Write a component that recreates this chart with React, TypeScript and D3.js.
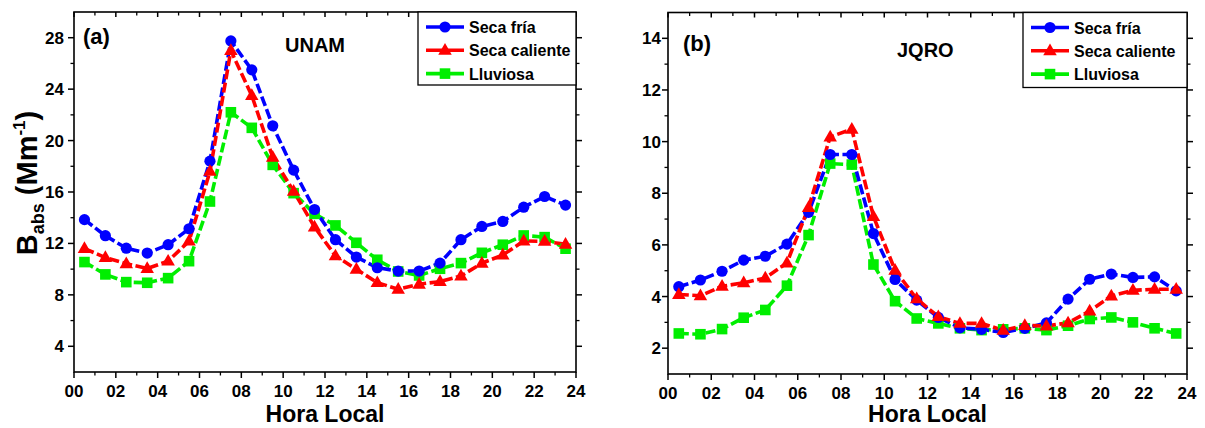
import React from "react";
import * as d3 from "d3";

const hours = [0.5,1.5,2.5,3.5,4.5,5.5,6.5,7.5,8.5,9.5,10.5,11.5,12.5,13.5,14.5,15.5,16.5,17.5,18.5,19.5,20.5,21.5,22.5,23.5];

const unamSecaFria = [13.85,12.6,11.63,11.25,11.9,13.14,18.4,27.75,25.5,21.15,17.7,14.64,12.29,10.94,10.11,9.85,9.85,10.47,12.29,13.32,13.71,14.82,15.65,14.98];
const unamSecaCaliente = [11.6,10.9,10.42,10.05,10.62,12.18,17.6,27.0,23.5,18.7,16.05,13.28,11.03,9.99,8.95,8.44,8.83,9.03,9.47,10.46,11.1,12.19,12.16,11.94];
const unamLluviosa = [10.55,9.59,8.99,8.94,9.3,10.62,15.26,22.2,20.99,18.11,15.91,14.3,13.4,12.05,10.73,9.82,9.51,10.03,10.47,11.27,11.9,12.62,12.49,11.59];

const jqroSecaFria = [4.38,4.64,4.98,5.41,5.56,6.03,7.26,9.5,9.5,6.44,4.66,3.86,3.19,2.79,2.73,2.61,2.77,2.98,3.9,4.67,4.87,4.74,4.76,4.22];
const jqroSecaCaliente = [4.08,4.03,4.4,4.53,4.72,5.3,7.45,10.18,10.48,7.1,5.02,3.91,3.22,2.96,2.96,2.69,2.88,2.86,2.98,3.44,4.02,4.24,4.28,4.28];
const jqroLluviosa = [2.57,2.54,2.74,3.18,3.48,4.42,6.38,9.15,9.11,5.24,3.82,3.15,2.96,2.77,2.7,2.73,2.77,2.7,2.87,3.13,3.19,3.0,2.77,2.57];

const seriesNames = ["Seca fría", "Seca caliente", "Lluviosa"];
const seriesColors = ["#0000ff", "#ff0000", "#00ee00"];
const seriesShapes = ["circle", "triangle", "square"];

const xTickValues = [0,2,4,6,8,10,12,14,16,18,20,22,24];
const xMinorValues = d3.range(1, 24, 2);
const unamYTicks = [4,8,12,16,20,24,28];
const unamYMinor = [6,10,14,18,22,26];
const jqroYTicks = [2,4,6,8,10,12,14];
const jqroYMinor = [3,5,7,9,11,13];

const FONT = "Arial, 'Liberation Sans', Helvetica, sans-serif";

function Marker({ shape, x, y, color }: { shape: string; x: number; y: number; color: string }) {
  if (shape === "circle") return <circle cx={x} cy={y} r={5.6} fill={color} />;
  if (shape === "square") return <rect x={x - 5.3} y={y - 5.3} width={10.6} height={10.6} fill={color} />;
  const s = 13.5;
  const h = s * 0.866;
  return (
    <polygon
      points={`${x},${y - h * 0.62} ${x - s / 2},${y + h * 0.38} ${x + s / 2},${y + h * 0.38}`}
      fill={color}
    />
  );
}

type PanelProps = {
  x0: number; x1: number; y0: number; y1: number;
  yDomain: [number, number];
  yTicks: number[]; yMinor: number[];
  data: number[][];
  letter: string; letterPos: [number, number];
  site: string; sitePos: [number, number];
  legendBox: [number, number, number, number];
  yLabelGap: number;
};

function Panel(p: PanelProps) {
  const x = d3.scaleLinear().domain([0, 24]).range([p.x0, p.x1]);
  const y = d3.scaleLinear().domain(p.yDomain).range([p.y1, p.y0]);
  const line = d3.line<number>().x((_, i) => x(hours[i])).y((d) => y(d));
  const [lx, ly, lw, lh] = p.legendBox;
  const order = [0, 1, 2];
  const drawOrder = [2, 0, 1];
  return (
    <g>
      {drawOrder.map((si) => (
        <path key={"l" + si} d={line(p.data[si]) || ""} fill="none" stroke={seriesColors[si]}
          strokeWidth={3.6} strokeDasharray="10 3.5" strokeLinejoin="round" />
      ))}
      {drawOrder.map((si) => (
        <g key={"m" + si}>
          {p.data[si].map((v, i) => (
            <Marker key={i} shape={seriesShapes[si]} x={x(hours[i])} y={y(v)} color={seriesColors[si]} />
          ))}
        </g>
      ))}
      <rect x={p.x0} y={p.y0} width={p.x1 - p.x0} height={p.y1 - p.y0} fill="none" stroke="#000" strokeWidth={1.6} />
      {xTickValues.map((t) => (
        <g key={"xt" + t}>
          <line x1={x(t)} x2={x(t)} y1={p.y1} y2={p.y1 + 6} stroke="#000" strokeWidth={1.5} />
          <line x1={x(t)} x2={x(t)} y1={p.y0} y2={p.y0 + 5} stroke="#000" strokeWidth={1.5} />
          <text x={x(t)} y={p.y1 + 25} textAnchor="middle" fontFamily={FONT} fontWeight="bold" fontSize={17}>
            {d3.format("02d")(t)}
          </text>
        </g>
      ))}
      {xMinorValues.map((t) => (
        <g key={"xm" + t}>
          <line x1={x(t)} x2={x(t)} y1={p.y1} y2={p.y1 + 3.5} stroke="#000" strokeWidth={1.3} />
          <line x1={x(t)} x2={x(t)} y1={p.y0} y2={p.y0 + 3.5} stroke="#000" strokeWidth={1.3} />
        </g>
      ))}
      {p.yTicks.map((t) => (
        <g key={"yt" + t}>
          <line x1={p.x0 - 6} x2={p.x0} y1={y(t)} y2={y(t)} stroke="#000" strokeWidth={1.5} />
          <line x1={p.x1} x2={p.x1 + 6} y1={y(t)} y2={y(t)} stroke="#000" strokeWidth={1.5} />
          <text x={p.x0 - p.yLabelGap} y={y(t) + 6} textAnchor="end" fontFamily={FONT} fontWeight="bold" fontSize={17}>
            {t}
          </text>
        </g>
      ))}
      {p.yMinor.map((t) => (
        <g key={"ym" + t}>
          <line x1={p.x0 - 3.5} x2={p.x0} y1={y(t)} y2={y(t)} stroke="#000" strokeWidth={1.3} />
          <line x1={p.x1} x2={p.x1 + 3.5} y1={y(t)} y2={y(t)} stroke="#000" strokeWidth={1.3} />
        </g>
      ))}
      <text x={p.letterPos[0]} y={p.letterPos[1]} fontFamily={FONT} fontWeight="bold" fontSize={22}>{p.letter}</text>
      <text x={p.sitePos[0]} y={p.sitePos[1]} fontFamily={FONT} fontWeight="bold" fontSize={20}>{p.site}</text>
      <rect x={lx} y={ly} width={lw} height={lh} fill="#fff" stroke="#000" strokeWidth={1.3} />
      {order.map((si, k) => {
        const cy = ly + 15 + k * 23.3;
        return (
          <g key={"lg" + si}>
            <line x1={lx + 8} x2={lx + 46} y1={cy} y2={cy} stroke={seriesColors[si]} strokeWidth={3.6} />
            <Marker shape={seriesShapes[si]} x={lx + 27} y={cy} color={seriesColors[si]} />
            <text x={lx + 51} y={cy + 6} fontFamily={FONT} fontWeight="bold" fontSize={16}>{seriesNames[si]}</text>
          </g>
        );
      })}
      <text x={(p.x0 + p.x1) / 2} y={422} textAnchor="middle" fontFamily={FONT} fontWeight="bold" fontSize={23}>
        Hora Local
      </text>
    </g>
  );
}

export default function App() {
  return (
    <svg width={1205} height={428} style={{ position: "absolute", left: 0, top: 0, background: "#fff" }}>
      <rect width={1205} height={428} fill="#fff" />
      <Panel
        x0={74} x1={576} y0={12} y1={372}
        yDomain={[2, 30]} yTicks={unamYTicks} yMinor={unamYMinor}
        data={[unamSecaFria, unamSecaCaliente, unamLluviosa]}
        letter="(a)" letterPos={[83, 44]}
        site="UNAM" sitePos={[285, 52]}
        legendBox={[418, 12, 158, 73]}
        yLabelGap={10}
      />
      <Panel
        x0={668} x1={1187} y0={12.5} y1={374}
        yDomain={[1, 15]} yTicks={jqroYTicks} yMinor={jqroYMinor}
        data={[jqroSecaFria, jqroSecaCaliente, jqroLluviosa]}
        letter="(b)" letterPos={[683, 51]}
        site="JQRO" sitePos={[897, 57]}
        legendBox={[1023, 12.5, 164, 75]}
        yLabelGap={7}
      />
      <text transform="translate(37,183) rotate(-90)" textAnchor="middle" fontFamily={FONT} fontWeight="bold" fontSize={29}>
        B<tspan fontSize={18} dy={7}>abs</tspan><tspan dy={-7}> (Mm</tspan><tspan fontSize={17} dy={-12}>-1</tspan><tspan dy={12}>)</tspan>
      </text>
    </svg>
  );
}
